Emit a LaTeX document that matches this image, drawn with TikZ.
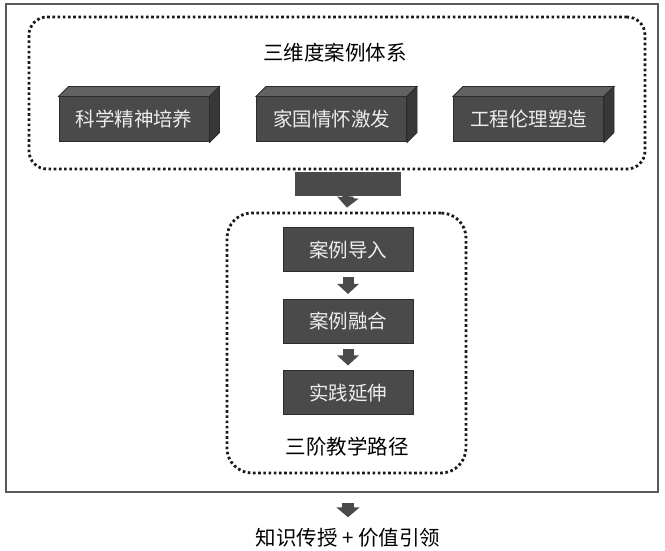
\documentclass[tikz,border=0pt]{standalone}
\usepackage{fontspec}
\usepackage{xcolor}
\usepackage{tikz}
\usetikzlibrary{shapes,arrows.meta,positioning,calc}
\newfontfamily\cjk{Noto Sans CJK SC}
\definecolor{cubefront}{HTML}{4A4A4A}
\definecolor{cubetop}{HTML}{626262}
\definecolor{cubeside}{HTML}{383838}
\definecolor{cubeedge}{HTML}{2C2C2C}
\definecolor{arrowgray}{HTML}{4A4A4A}
\definecolor{lighttext}{HTML}{EDEDED}
\tikzset{
  cube/.style={fill=cubefront, draw=cubeedge, line width=1pt, minimum width=150pt,
    minimum height=45pt, inner sep=0pt, text=lighttext, font=\cjk\fontsize{19.5}{22}\selectfont},
  stepbox/.style={fill=cubefront, draw=cubeedge, line width=1pt, minimum width=130pt,
    minimum height=44pt, inner sep=0pt, text=lighttext, font=\cjk\fontsize{19.5}{22}\selectfont},
  dotbox/.style={draw=black!90, line width=2.8pt, dash pattern=on 2.6pt off 2.6pt},
  caption/.style={inner sep=0pt, font=\cjk\fontsize{20.5}{24}\selectfont},
  fatarrow/.style={draw=arrowgray, line width=11pt, -{Triangle[width=21pt,length=10pt]}},
}
% sides of a 3d box
\newcommand{\cubesides}[1]{%
  \filldraw[fill=cubetop,draw=cubeedge,line width=0.8pt] (#1.north west) -- ++(10,10) -- ($(#1.north east)+(10,10)$) -- (#1.north east) -- cycle;
  \filldraw[fill=cubeside,draw=cubeedge,line width=0.8pt] (#1.north east) -- ++(10,10) -- ($(#1.south east)+(10,10)$) -- (#1.south east) -- cycle;}

\begin{document}
\begin{tikzpicture}[x=1pt,y=1pt]
\useasboundingbox (0,0) rectangle (665,551);
% Outer frame
\node[draw=black!65, line width=1.6pt, minimum width=652pt, minimum height=488pt] (frame) at (332,303) {};

% Three dimensions
\node[dotbox, rounded corners=18pt, minimum width=616pt, minimum height=152pt] (dims) at (337,458) {};
\node[caption] (dimtitle) at (335,498) {三维度案例体系};
\foreach \n/\x/\t in {science/134/科学精神培养, nation/331.5/家国情怀激发, ethics/528.5/工程伦理塑造} {
    \node[cube] (\n) at (\x,431.5) {\t};
    \cubesides{\n}
}

% Link block
\node[fill=arrowgray, minimum width=106pt, minimum height=24pt, inner sep=0pt] (link) at (348,367) {};

% Three stages
\node[dotbox, rounded corners=25pt, minimum width=239pt, minimum height=260pt] (path) at (346.5,208) {};
\node[stepbox] (intro) at (348,301) {案例导入};
\node[stepbox] (merge) at (348,229.5) {案例融合};
\node[stepbox] (extend) at (348,158) {实践延伸};
\node[caption] (pathtitle) at (347,104) {三阶教学路径};

% Arrows
\draw[fatarrow, shorten >=4pt] (link.south) -- (path.north);
\draw[fatarrow, shorten <=5pt, shorten >=5pt] (intro) -- (merge);
\draw[fatarrow, shorten <=5pt, shorten >=5pt] (merge) -- (extend);

% Goal
\node[caption] (goal) at (348,13) {知识传授 + 价值引领};
\draw[fatarrow, line width=12pt, -{Triangle[width=23pt,length=10pt]}, shorten <=10pt, shorten >=11pt] (frame.south -| goal) -- (goal.north);

\end{tikzpicture}
\end{document}
